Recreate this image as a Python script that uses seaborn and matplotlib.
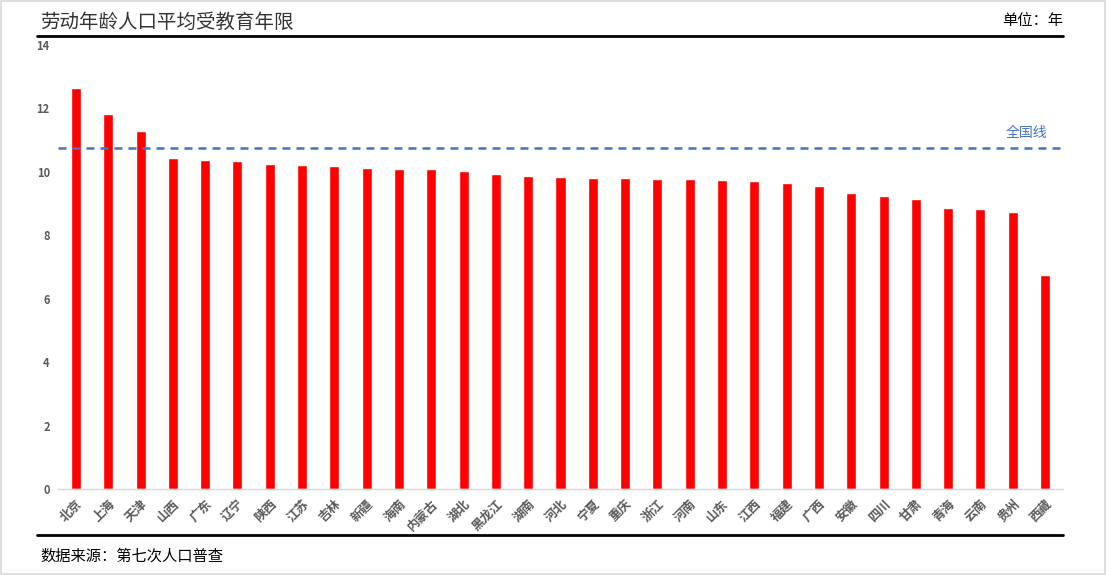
import pandas as pd
import matplotlib.pyplot as plt
import seaborn as sns
from matplotlib.lines import Line2D
from matplotlib.patches import Rectangle

provinces = ['北京', '上海', '天津', '山西', '广东', '辽宁', '陕西', '江苏', '吉林', '新疆',
             '海南', '内蒙古', '湖北', '黑龙江', '湖南', '河北', '宁夏', '重庆', '浙江', '河南',
             '山东', '江西', '福建', '广西', '安徽', '四川', '甘肃', '青海', '云南', '贵州', '西藏']
years = [12.64, 11.81, 11.29, 10.45, 10.38, 10.34, 10.26, 10.21, 10.17, 10.11,
         10.10, 10.08, 10.04, 9.93, 9.88, 9.84, 9.81, 9.80, 9.79, 9.79,
         9.75, 9.70, 9.66, 9.54, 9.34, 9.24, 9.13, 8.85, 8.84, 8.75, 6.75]
national = 10.75
yticks = [0, 2, 4, 6, 8, 10, 12, 14]

df = pd.DataFrame({'province': provinces, 'years': years})

sns.set_style('white')
plt.rcParams['font.family'] = ['Noto Sans CJK SC', 'DejaVu Sans']

fig = plt.figure(figsize=(11.07, 5.75), dpi=100)
ax = fig.add_axes([58.2 / 1107, 86 / 575, 1004.6 / 1107, 444 / 575])

sns.barplot(x='province', y='years', data=df, color='#FF0000', saturation=1,
            width=0.31, ax=ax)

ax.axhline(national, color='#4472C4', linewidth=1.8, linestyle=(0, (3.2, 2.4)))
ax.text(0.985, national + 0.25, '全国线', transform=ax.get_yaxis_transform(),
        ha='right', va='bottom', color='#4472C4', fontsize=10)

ax.set_ylim(0, 14)
ax.set_yticks(yticks)
ax.set_yticklabels([str(t) for t in yticks], fontsize=8, fontweight='bold', color='#595959')
ax.set_xticks(range(len(provinces)))
ax.set_xticklabels(provinces, rotation=45, ha='right', rotation_mode='anchor',
                   fontsize=9, fontweight='bold', color='#595959')
ax.tick_params(axis='x', length=0, pad=6)
ax.tick_params(axis='y', length=0, pad=6)
ax.set_xlabel('')
ax.set_ylabel('')
for side in ['top', 'right', 'left']:
    ax.spines[side].set_visible(False)
ax.spines['bottom'].set_color('#D9D9D9')
ax.spines['bottom'].set_linewidth(1)
ax.set_xlim(-0.55, len(provinces) - 0.45)

fig.text(40 / 1107, 1 - 22 / 575, '劳动年龄人口平均受教育年限', fontsize=14,
         ha='left', va='center', color='#333333')
fig.text(1063 / 1107, 1 - 21 / 575, '单位：年', fontsize=11, ha='right', va='center', color='black')
fig.text(40 / 1107, 1 - 556 / 575, '数据来源：第七次人口普查', fontsize=11,
         ha='left', va='center', color='black')

fig.add_artist(Line2D([37 / 1107, 1063 / 1107], [1 - 36 / 575, 1 - 36 / 575],
                      color='black', linewidth=2, transform=fig.transFigure))
fig.add_artist(Line2D([37 / 1107, 1063 / 1107], [1 - 535 / 575, 1 - 535 / 575],
                      color='black', linewidth=2, transform=fig.transFigure))
fig.add_artist(Rectangle((0.001, 0.002), 0.997, 0.996, fill=False, edgecolor='#D9D9D9',
                         linewidth=1.2, transform=fig.transFigure))

fig.savefig('out.png', dpi=100)
